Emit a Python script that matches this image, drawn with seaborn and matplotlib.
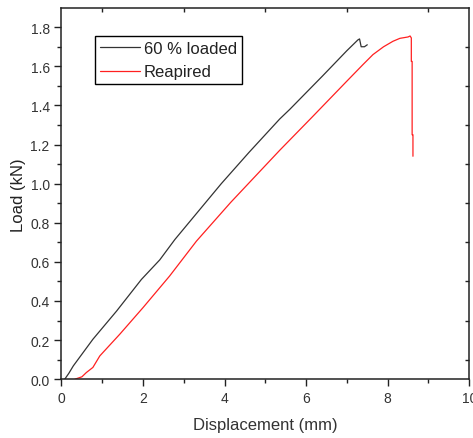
import numpy as np
import pandas as pd
import matplotlib
matplotlib.use("Agg")
import matplotlib.pyplot as plt
from matplotlib.ticker import MultipleLocator, FixedLocator
import seaborn as sns

loaded_disp = [0.08, 0.18, 0.29, 0.77, 1.35, 1.96, 2.41, 2.78, 3.92, 4.60, 5.35,
               5.60, 6.40, 7.00, 7.27, 7.31, 7.35, 7.43, 7.50]
loaded_load = [0.0, 0.03, 0.068, 0.204, 0.348, 0.51, 0.61, 0.714, 1.00, 1.16, 1.33,
               1.38, 1.55, 1.68, 1.735, 1.74, 1.70, 1.70, 1.71]

repaired_disp = [0.33, 0.50, 0.61, 0.77, 0.94, 1.43, 2.00, 2.65, 3.31, 4.15,
                 5.35, 6.16, 6.98, 7.40, 7.64, 7.90, 8.13, 8.30, 8.50, 8.55, 8.58,
                 8.58, 8.60, 8.60, 8.62, 8.62]
repaired_load = [0.0, 0.012, 0.034, 0.06, 0.119, 0.23, 0.366, 0.527, 0.706, 0.904,
                 1.17, 1.343, 1.52, 1.61, 1.66, 1.70, 1.728, 1.743, 1.75, 1.755, 1.745,
                 1.625, 1.625, 1.25, 1.25, 1.14]

labels = ["60 % loaded", "Reapired"]

sns.set_style("white")
plt.rcParams['font.family'] = ['Liberation Sans', 'DejaVu Sans']

fig = plt.figure(figsize=(4.73, 4.39), dpi=100)
ax = fig.add_axes([0.130, 0.134, 0.862, 0.845])

df1 = pd.DataFrame({"disp": loaded_disp, "load": loaded_load})
df2 = pd.DataFrame({"disp": repaired_disp, "load": repaired_load})
sns.lineplot(data=df1, x="disp", y="load", sort=False, estimator=None,
             color="#333333", lw=0.9, label=labels[0], ax=ax)
sns.lineplot(data=df2, x="disp", y="load", sort=False, estimator=None,
             color="#ff2020", lw=0.9, label=labels[1], ax=ax)

ax.set_xlim(0, 10)
ax.set_ylim(0, 1.897)
ax.xaxis.set_major_locator(MultipleLocator(2))
ax.xaxis.set_minor_locator(MultipleLocator(1))
ax.yaxis.set_major_locator(FixedLocator(np.round(np.arange(0, 1.81, 0.2), 1)))
ax.yaxis.set_minor_locator(MultipleLocator(0.1))
ax.yaxis.set_major_formatter(matplotlib.ticker.FormatStrFormatter('%.1f'))
ax.tick_params(which='major', direction='out', length=5, width=1,
               bottom=True, left=True, labelsize=10, labelcolor='#333333', color='#222222')
ax.tick_params(which='minor', direction='out', length=3, width=1,
               bottom=True, left=True, color='#222222')

for s in ax.spines.values():
    s.set_color('#222222')
    s.set_linewidth(1.1)

top = ax.secondary_xaxis('top')
top.set_xticks([1, 3, 5, 7, 9])
top.tick_params(direction='in', length=3, width=1, labeltop=False, color='#222222')
top.spines['top'].set_visible(False)
right = ax.secondary_yaxis('right')
right.set_yticks([0.1, 0.3, 0.5, 0.7, 0.9, 1.1, 1.3, 1.5, 1.7])
right.tick_params(direction='in', length=3, width=1, labelright=False, color='#222222')
right.spines['right'].set_visible(False)

ax.set_xlabel("Displacement (mm)", fontsize=12, color='#333333', labelpad=9)
ax.set_ylabel("Load (kN)", fontsize=12, color='#222222', labelpad=3)

leg = ax.legend(loc='upper left', bbox_to_anchor=(0.082, 0.925), borderaxespad=0,
                fontsize=12, frameon=True, fancybox=False, framealpha=1,
                edgecolor='black', handlelength=2.4, handletextpad=0.25,
                labelspacing=0.5, borderpad=0.3)
leg.get_frame().set_linewidth(1.0)
for t in leg.get_texts():
    t.set_color('#222222')

fig.savefig("out.png", dpi=100)
